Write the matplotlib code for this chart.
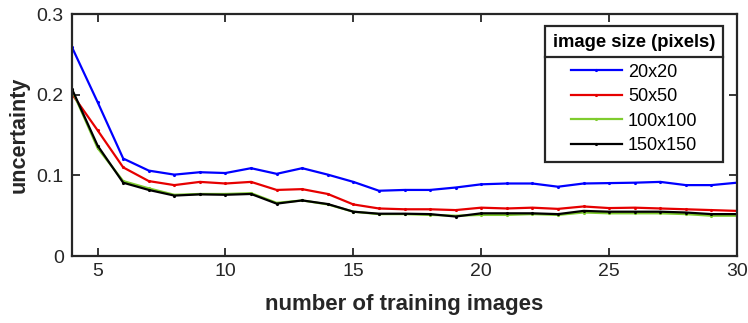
import matplotlib
matplotlib.use("Agg")
import matplotlib.pyplot as plt
from matplotlib.lines import Line2D

# training set size
n_train = list(range(4, 31))

unc_20 = [0.259, 0.191, 0.121, 0.106, 0.101, 0.104, 0.103, 0.109, 0.102, 0.109,
          0.101, 0.092, 0.081, 0.082, 0.082, 0.085, 0.089, 0.090, 0.090, 0.086,
          0.090, 0.0905, 0.091, 0.092, 0.088, 0.088, 0.091]
unc_50 = [0.201, 0.156, 0.110, 0.093, 0.088, 0.092, 0.090, 0.092, 0.082, 0.083,
          0.077, 0.064, 0.059, 0.058, 0.058, 0.057, 0.060, 0.059, 0.060, 0.0585,
          0.0615, 0.0595, 0.060, 0.059, 0.058, 0.057, 0.056]
unc_100 = [0.206, 0.134, 0.093, 0.084, 0.076, 0.077, 0.077, 0.078, 0.066, 0.069,
           0.064, 0.055, 0.052, 0.052, 0.051, 0.050, 0.051, 0.051, 0.052, 0.051,
           0.054, 0.053, 0.053, 0.053, 0.052, 0.050, 0.050]
unc_150 = [0.207, 0.137, 0.091, 0.082, 0.075, 0.0765, 0.076, 0.077, 0.065, 0.069,
           0.0645, 0.055, 0.0525, 0.0525, 0.052, 0.049, 0.053, 0.053, 0.053, 0.052,
           0.056, 0.055, 0.055, 0.055, 0.054, 0.052, 0.052]

labels = ["20x20", "50x50", "100x100", "150x150"]
colors = ["#0000ff", "#e60000", "#7fcc2e", "#000000"]

plt.rcParams["font.family"] = ["Liberation Sans", "DejaVu Sans"]
axcol = "#262626"

fig = plt.figure(figsize=(7.48, 3.23), dpi=100)
ax = fig.add_axes([0.0963, 0.2074, 0.889, 0.7483])

for ys, lab, c in zip([unc_20, unc_50, unc_100, unc_150], labels, colors):
    ax.plot(n_train, ys, "-", marker=".", markersize=2.5, color=c, lw=1.6, label=lab)

ax.set_xlim(4, 30)
ax.set_ylim(0, 0.3)
ax.set_xticks([5, 10, 15, 20, 25, 30])
ax.set_yticks([0, 0.1, 0.2, 0.3])
ax.set_yticklabels(["0", "0.1", "0.2", "0.3"])
ax.tick_params(direction="in", length=6, width=1.3, colors=axcol,
               labelsize=14, top=True, right=True)
ax.tick_params(axis="x", pad=5)
ax.tick_params(axis="y", pad=6)
for sp in ax.spines.values():
    sp.set_color(axcol)
    sp.set_linewidth(1.6)

ax.set_xlabel("number of training images", fontsize=16, fontweight="bold",
              color=axcol, labelpad=10)
ax.set_ylabel("uncertainty", fontsize=15.5, fontweight="bold",
              color=axcol, labelpad=5)

leg = ax.legend(title="image size (pixels)", loc="upper right",
                bbox_to_anchor=(0.979, 0.950), fontsize=13,
                title_fontproperties={"weight": "bold", "size": 13.3},
                handlelength=2.8, handletextpad=0.35, labelspacing=0.41,
                borderpad=0.42, fancybox=False, framealpha=1,
                edgecolor=axcol, borderaxespad=0)
leg.get_frame().set_linewidth(1.6)
leg._legend_box.align = "center"
leg._legend_box.sep = 9.2  # gap between title and entries, points

# separator line under the legend title
fig.canvas.draw()
rend = fig.canvas.get_renderer()
fb = leg.get_frame().get_window_extent(rend)
tb = leg.get_title().get_window_extent(rend)
ysep = (tb.y0 + tb.y1) / 2 - 15
inv = fig.transFigure.inverted()
(x0, y0), (x1, _) = inv.transform([(fb.x0, ysep), (fb.x1, ysep)])
fig.add_artist(Line2D([x0, x1], [y0, y0], color=axcol, lw=1.6))

fig.savefig("out.png", dpi=100)
